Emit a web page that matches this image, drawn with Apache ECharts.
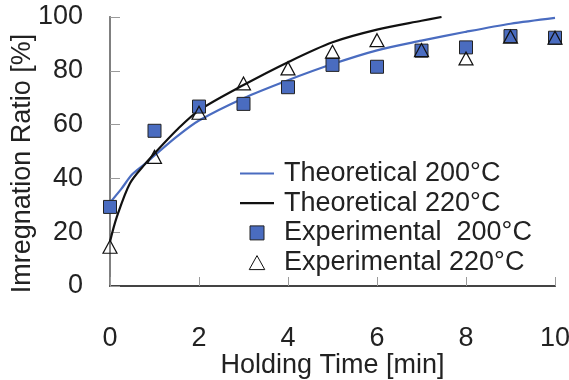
<!DOCTYPE html>
<html>
<head>
<meta charset="utf-8">
<script src="https://cdn.jsdelivr.net/npm/echarts@6/dist/echarts.min.js"></script>
<style>html,body{margin:0;padding:0;background:#fff}#c{width:569px;height:380px}</style>
</head>
<body>
<div id="c"></div>
<script>
const xTicks = [0, 2, 4, 6, 8, 10];
const expX = [0, 1, 2, 3, 4, 5, 6, 7, 8, 9, 10];
const exp200 = [29.4, 57.7, 66.7, 67.7, 73.9, 82.2, 81.5, 87.5, 88.7, 92.9, 92.3];
const exp220 = [14.6, 48.0, 64.4, 75.3, 80.9, 87.1, 91.4, 87.7, 84.6, 92.7, 92.3];
const theoX200 = [0, 0.25, 0.5, 0.8, 1, 1.5, 2, 3, 4, 5, 6, 7, 8, 9, 10];
const theo200 = [31, 36, 41.5, 45.6, 48.5, 55.5, 61.5, 69.8, 76.5, 82.5, 87.6, 91.2, 94.5, 97.5, 99.7];
const theoX220 = [0, 0.15, 0.45, 0.8, 1, 1.5, 2, 3, 4, 5, 6, 7, 7.45];
const theo220 = [16.5, 25.5, 38.2, 45.6, 49.3, 58, 65.3, 74.7, 83.2, 90.6, 95.3, 98.6, 100];

const zip = (a, b) => a.map((v, i) => [v, b[i]]);
const FONT = 'Liberation Sans';
const BLUE = '#4a6cc0';
const chart = echarts.init(document.getElementById('c'), null, {renderer: 'canvas'});
chart.setOption({
  animation: false,
  backgroundColor: '#fff',
  textStyle: {fontFamily: FONT, color: '#222'},
  grid: {left: 110, right: 14, top: 17, bottom: 94, show: false, containLabel: false, outerBoundsMode: 'none'},
  xAxis: [{
    type: 'value', min: 0, max: 10, interval: 2,
    name: 'Holding Time [min]', nameLocation: 'middle', nameGap: 66, nameMoveOverlap: false,
    nameTextStyle: {fontSize: 27, color: '#222', fontFamily: FONT},
    axisLine: {show: true, lineStyle: {color: '#9a9a9a', width: 2}},
    axisTick: {show: true, inside: true, length: 9, lineStyle: {color: '#9a9a9a', width: 1}},
    axisLabel: {fontSize: 27, color: '#222', margin: 39, fontFamily: FONT},
    splitLine: {show: false}
  }, {
    type: 'value', min: 0, max: 10, position: 'top',
    axisLine: {show: true, lineStyle: {color: '#444', width: 2}},
    axisTick: {show: false}, axisLabel: {show: false}, splitLine: {show: false}
  }],
  yAxis: [{
    type: 'value', min: 0, max: 100, interval: 20,
    name: 'Imregnation Ratio [%]', nameLocation: 'middle', nameGap: 74, nameMoveOverlap: false,
    nameTextStyle: {fontSize: 27, color: '#222', fontFamily: FONT, padding: [0, 24, 0, 0]},
    axisLine: {show: true, lineStyle: {color: '#9a9a9a', width: 2}},
    axisTick: {show: true, inside: true, length: 10, lineStyle: {color: '#9a9a9a', width: 1}},
    axisLabel: {fontSize: 27, color: '#222', margin: 27, fontFamily: FONT},
    splitLine: {show: false}
  }, {
    type: 'value', min: 0, max: 100, position: 'right',
    axisLine: {show: true, lineStyle: {color: '#808080', width: 2}},
    axisTick: {show: false}, axisLabel: {show: false}, splitLine: {show: false}
  }],
  legend: {
    orient: 'vertical', left: 235, top: 155,
    itemWidth: 34, itemHeight: 14, itemGap: 2.7,
    symbolKeepAspect: true,
    textStyle: {fontSize: 27, color: '#222', fontFamily: FONT, padding: [0, 0, 0, 5], lineHeight: 27},
    data: [
      {name: 'Theoretical 200°C', icon: 'path://M0,0 H34 V2.2 H0 Z', itemStyle: {color: BLUE, borderWidth: 0}},
      {name: 'Theoretical 220°C', icon: 'path://M0,0 H34 V2.2 H0 Z', itemStyle: {color: '#111', borderWidth: 0}},
      {name: 'Experimental  200°C', icon: 'path://M0,0 H10 V10 H0 Z', itemStyle: {color: BLUE, borderColor: '#222', borderWidth: 1}},
      {name: 'Experimental 220°C', icon: 'path://M5,0 L10,9 L0,9 Z', itemStyle: {color: '#fff', borderColor: '#111', borderWidth: 1}}
    ]
  },
  series: [
    {name: 'Theoretical 200°C', type: 'line', data: zip(theoX200, theo200), symbol: 'none', smooth: 0.3,
     lineStyle: {color: BLUE, width: 2.2}, itemStyle: {color: BLUE}, z: 2},
    {name: 'Theoretical 220°C', type: 'line', data: zip(theoX220, theo220), symbol: 'none', smooth: 0.3,
     lineStyle: {color: '#111', width: 2.2}, itemStyle: {color: '#111'}, z: 2},
    {name: 'Experimental  200°C', type: 'scatter', data: zip(expX, exp200), symbol: 'rect', symbolSize: 13,
     itemStyle: {color: BLUE, borderColor: '#222', borderWidth: 1, opacity: 1}, z: 3},
    {name: 'Experimental 220°C', type: 'scatter', data: zip(expX, exp220), symbol: 'triangle', symbolSize: [14, 13],
     itemStyle: {color: 'rgba(255,255,255,0)', borderColor: '#111', borderWidth: 1.2, opacity: 1}, z: 4}
  ]
});
</script>
</body>
</html>
